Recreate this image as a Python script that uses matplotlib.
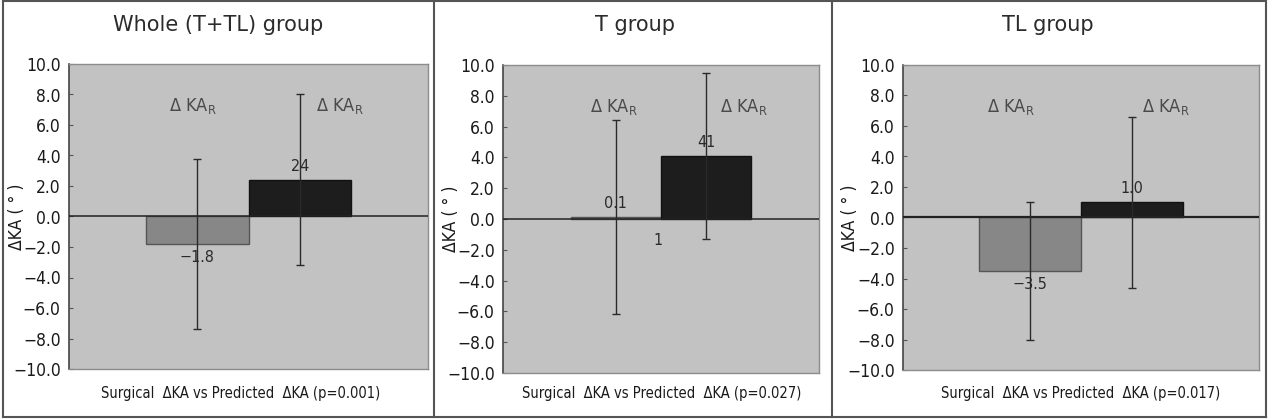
import matplotlib
matplotlib.use("Agg")
import matplotlib.pyplot as plt
from matplotlib.lines import Line2D
import numpy as np

# ---- data ----
groups = ["Whole (T+TL) group", "T group", "TL group"]
means_surgical = [-1.8, 0.1, -3.5]
means_predicted = [2.4, 4.1, 1.0]
sd_surgical = [5.6, 6.3, 4.5]
sd_predicted = [5.6, 5.4, 5.6]
surgical_labels = ["\u22121.8", "0.1", "\u22123.5"]
predicted_labels = ["24", "41", "1.0"]
p_values = ["0.001", "0.027", "0.017"]
yticks = [-10, -8, -6, -4, -2, 0, 2, 4, 6, 8, 10]

plt.rcParams["font.family"] = ["DejaVu Sans"]
plt.rcParams["font.stretch"] = "condensed"

fig = plt.figure(figsize=(12.72, 4.19), dpi=100)
W, H = 1272, 419

def fx(px):
    return px / W

def fy(py):
    return 1 - py / H

# axes boxes in pixels (left, right, top, bottom)
boxes = [(69, 428, 64, 369), (503, 819, 65, 373), (903, 1259, 65, 370)]
title_x = [218, 635, 1048]
cap_x = [241, 662, 1081]
ylab_x = [26, 460, 859]
kar_pos = [(0.345, 0.755), (0.351, 0.763), (0.303, 0.739)]

bg = "#c2c2c2"
gray_bar = "#878787"
black_bar = "#1d1d1d"

for i in range(3):
    l, r, t, b = boxes[i]
    ax = fig.add_axes([fx(l), fy(b), fx(r) - fx(l), fy(t) - fy(b)])
    ax.set_facecolor(bg)
    x = np.array([1, 2])
    vals = [means_surgical[i], means_predicted[i]]
    sds = [sd_surgical[i], sd_predicted[i]]
    ax.bar(x, vals, width=1.0, color=[gray_bar, black_bar],
           edgecolor=["#555555", "#111111"], linewidth=1.0, zorder=2)
    zl = 1.6 if i == 2 else 1.1
    ax.axhline(0, color="#222222", lw=zl, zorder=3)
    ax.errorbar(x, vals, yerr=sds, fmt="none", ecolor="#2a2a2a",
                elinewidth=1.0, capsize=3, capthick=1.0, zorder=4)
    ax.set_xlim(-0.25, 3.25)
    ax.set_ylim(-10, 10)
    ax.set_xticks([])
    ax.set_yticks(yticks)
    ax.set_yticklabels([f"{v:.1f}".replace("-", "\u2212") for v in yticks],
                       fontsize=12.5, color="#1a1a1a")
    ax.tick_params(axis="y", direction="in", length=3, pad=6, color="#555555")
    for s in ["top", "right", "bottom"]:
        ax.spines[s].set_color("#8c8c8c")
        ax.spines[s].set_linewidth(1.0)
    ax.spines["left"].set_color("#444444")
    ax.spines["left"].set_linewidth(1.2)

    # value labels
    sv = means_surgical[i]
    pv = means_predicted[i]
    if sv < 0:
        ax.text(1, sv - 0.4, surgical_labels[i], ha="center", va="top",
                fontsize=11.5, color="#2a2a2a", zorder=5)
    else:
        ax.text(1, sv + 0.4, surgical_labels[i], ha="center", va="bottom",
                fontsize=11.5, color="#2a2a2a", zorder=5)
    ax.text(2, pv + 0.4, predicted_labels[i], ha="center", va="bottom",
            fontsize=11.5, color="#2a2a2a", zorder=5)
    if i == 1:
        ax.text(0.49, 0.43, "1", transform=ax.transAxes, ha="center",
                va="center", fontsize=11.5, color="#2a2a2a")

    # ΔKA_R labels
    for xa in kar_pos[i]:
        ax.text(xa, (7.25 + 10) / 20, "\u0394 KA$_\\mathregular{R}$",
                transform=ax.transAxes, ha="center", va="center",
                fontsize=13, color="#4a4a4a")

    ax.set_ylabel("\u0394KA ( \u00b0 )", fontsize=12.5, color="#1a1a1a")
    bb = ax.get_position()
    ax.yaxis.set_label_coords((fx(ylab_x[i]) - bb.x0) / bb.width, 0.5)

    fig.text(fx(title_x[i]), fy(25), groups[i], ha="center", va="center",
             fontsize=15, color="#2b2b2b", stretch="normal")
    fig.text(fx(cap_x[i]), fy(393),
             "Surgical  \u0394KA vs Predicted  \u0394KA (p=" + p_values[i] + ")",
             ha="center", va="center", fontsize=10.5, color="#1a1a1a")

# panel borders
bc = "#555555"
for xs, ys in [([3, 1266], [1, 1]), ([3, 1266], [417, 417]),
               ([3, 3], [1, 417]), ([1266, 1266], [1, 417]),
               ([434, 434], [1, 417]), ([832, 832], [1, 417])]:
    fig.add_artist(Line2D([fx(v) for v in xs], [fy(v) for v in ys],
                          color=bc, lw=1.5))

fig.savefig("out.png", dpi=100, facecolor="white")
